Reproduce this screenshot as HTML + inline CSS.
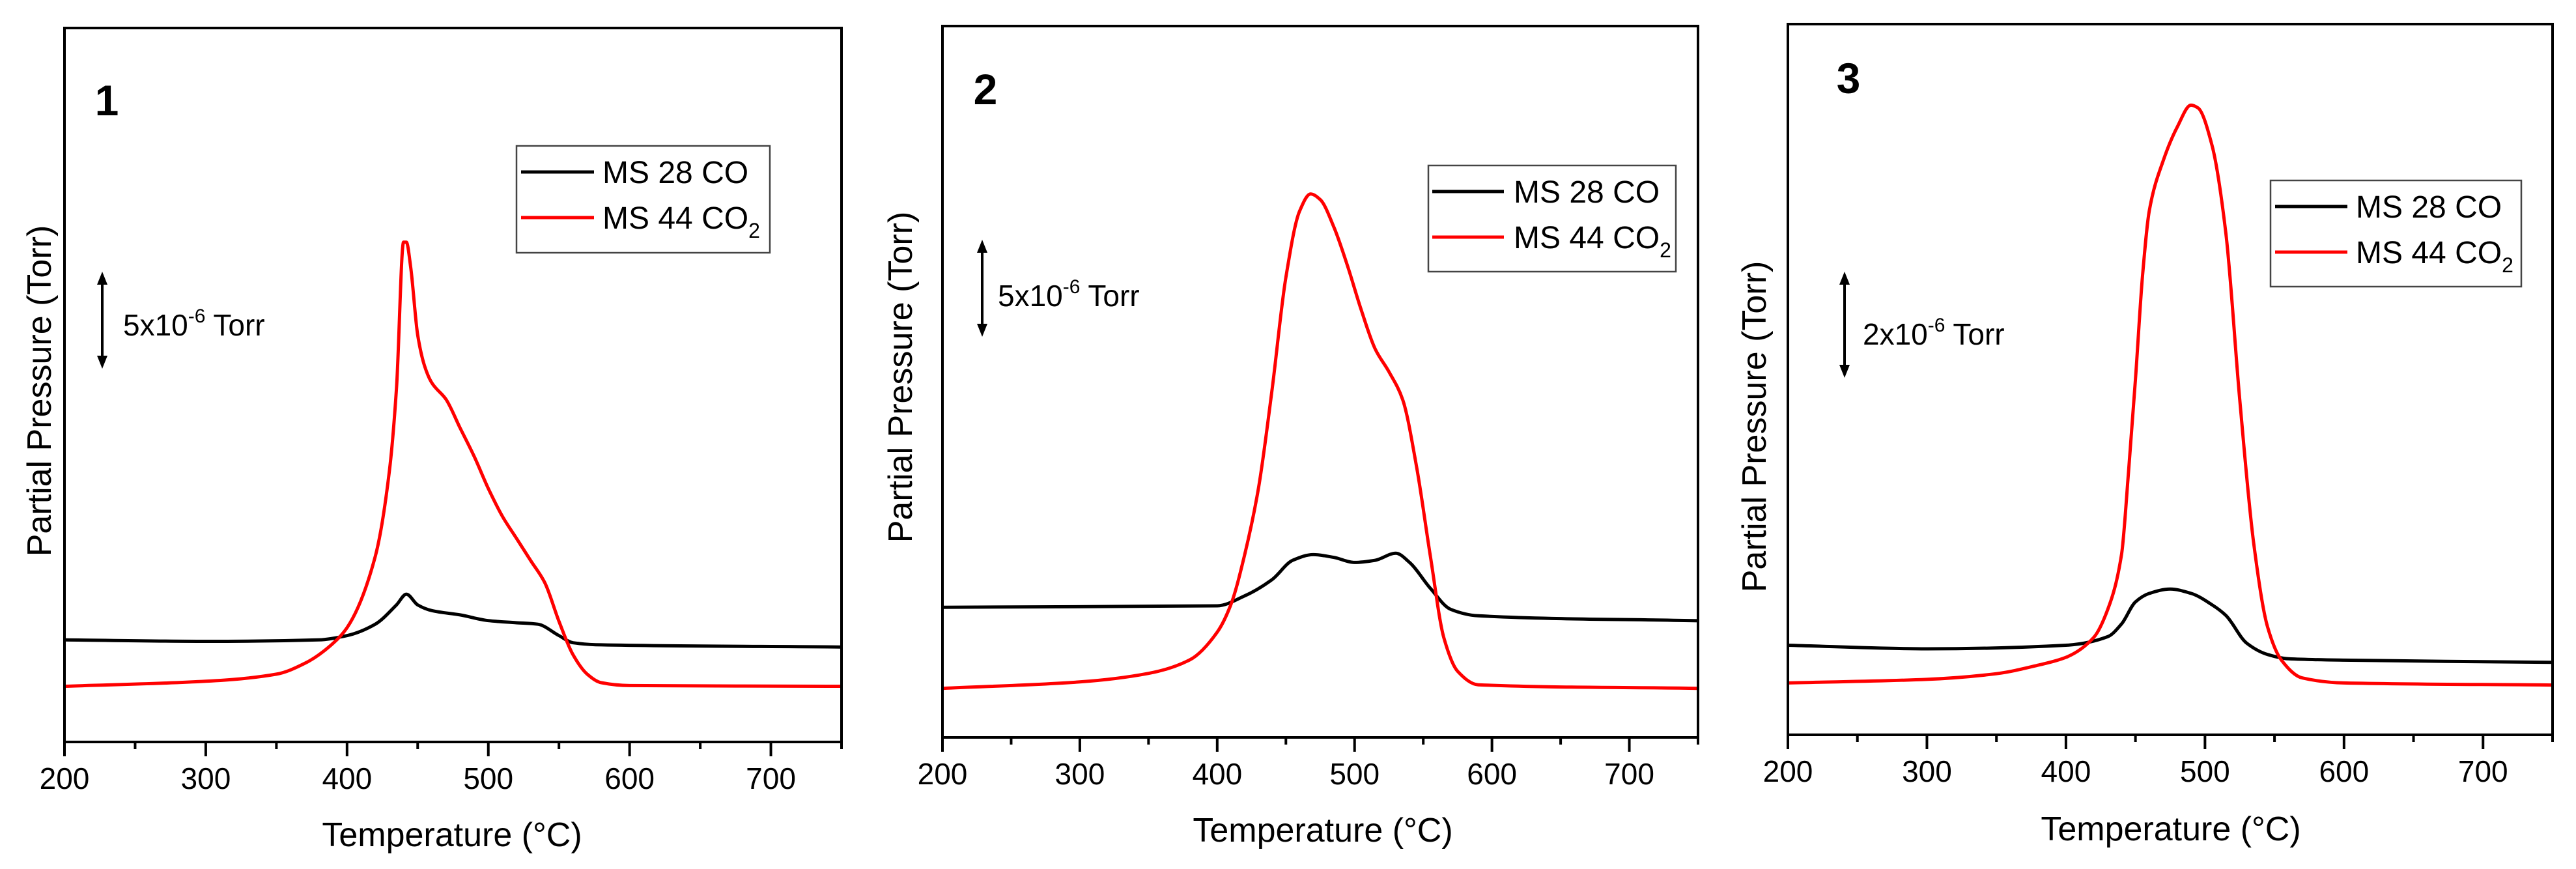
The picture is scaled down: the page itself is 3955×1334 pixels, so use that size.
<!DOCTYPE html>
<html><head><meta charset="utf-8"><style>
html,body{margin:0;padding:0;background:#fff;}
svg{display:block;font-family:"Liberation Sans",Arial,sans-serif;}
</style></head><body>
<svg id="fig" width="3955" height="1334" viewBox="0 0 3955 1334" xmlns="http://www.w3.org/2000/svg"></svg>
<script>
// X ticks
const xTicks = [200, 300, 400, 500, 600, 700];
// Panel 1 data (arbitrary signal units, 0..100 of plot height)
const p1CO2x = [200,300,350,370,390,400,420,430,435,440,442,445,450,455,460,470,480,490,500,510,520,530,540,550,560,570,580,600,750];
const p1CO2y = [7.8,8.5,9.5,11,13.8,16,26,38,49.5,70,70,66.6,57,52.6,50.3,48,44,40,35.5,31.6,28.5,25.4,22.3,16.9,12.2,9.5,8.3,7.9,7.8];
const p1COx = [200,300,380,400,420,435,442,450,460,480,500,520,535,550,560,580,750];
const p1COy = [14.3,14.1,14.3,14.9,16.5,19.2,20.7,19.2,18.4,17.8,17,16.7,16.5,14.9,13.9,13.6,13.3];
// Panel 2 data
const p2CO2x = [200,300,350,380,400,410,420,430,440,450,460,468,475,485,495,505,515,525,535,545,555,565,575,590,750];
const p2CO2y = [6.9,7.8,9,10.9,14.8,18.7,25.7,35,49,64.7,74,76.4,75.6,71.7,66.2,60,54.6,51.4,47.5,38.2,25.7,14,9.3,7.4,6.9];
const p2COx = [200,400,420,440,455,470,485,500,515,530,540,555,570,590,750];
const p2COy = [18.3,18.5,19.9,22.2,24.9,25.7,25.3,24.6,24.9,25.9,24.6,21,18,17.1,16.4];
// Panel 3 data
const p3CO2x = [200,300,350,380,400,420,430,440,445,450,455,460,470,480,490,495,505,515,525,535,545,555,570,600,750];
const p3CO2y = [7.3,7.8,8.6,9.8,10.9,13.7,17.6,25.4,37,50,64.4,73.8,80.8,85.5,88.6,88.2,83,70.6,47.2,27,15.2,10.5,8,7.3,7];
const p3COx = [200,300,400,430,440,450,460,475,490,505,515,530,545,560,600,750];
const p3COy = [12.6,12.1,12.6,13.8,15.6,18.7,19.9,20.5,19.9,18.3,16.8,12.9,11.3,10.7,10.5,10.2];

const NS = "http://www.w3.org/2000/svg";
const svg = document.getElementById('fig');
function mk(tag, attrs, parent){
  const e = document.createElementNS(NS, tag);
  for (const k in attrs) e.setAttribute(k, attrs[k]);
  (parent||svg).appendChild(e);
  return e;
}
// monotone cubic (Fritsch-Carlson) path through screen points
function smooth(pts){
  const n = pts.length;
  const dx=[], dy=[], m=[];
  for (let i=0;i<n-1;i++){ dx.push(pts[i+1][0]-pts[i][0]); dy.push(pts[i+1][1]-pts[i][1]); m.push(dy[i]/dx[i]); }
  const t = new Array(n);
  t[0]=m[0]; t[n-1]=m[n-2];
  for (let i=1;i<n-1;i++){
    if (m[i-1]*m[i] <= 0) t[i]=0;
    else { const w1=2*dx[i]+dx[i-1], w2=dx[i]+2*dx[i-1]; t[i]=(w1+w2)/(w1/m[i-1]+w2/m[i]); }
  }
  let d = "M" + pts[0][0].toFixed(1) + "," + pts[0][1].toFixed(1);
  for (let i=0;i<n-1;i++){
    const h = dx[i]/3;
    d += "C"+(pts[i][0]+h).toFixed(1)+","+(pts[i][1]+t[i]*h).toFixed(1)+" "+(pts[i+1][0]-h).toFixed(1)+","+(pts[i+1][1]-t[i+1]*h).toFixed(1)+" "+pts[i+1][0].toFixed(1)+","+pts[i+1][1].toFixed(1);
  }
  return d;
}

const panels = [
 {id:1, L:99, R:1292, T:43, B:1139, co2x:p1CO2x, co2y:p1CO2y, cox:p1COx, coy:p1COy,
  num:[164,153], leg:[793,224,1182,388], legLine:[800,912], legText:925, rows:[264,334],
  arrow:[157,417,566], ann:[189,515], annVal:"5", ytitle:[60,600], xtitle:[694,1299]},
 {id:2, L:1447, R:2607, T:40, B:1132, co2x:p2CO2x, co2y:p2CO2y, cox:p2COx, coy:p2COy,
  num:[1513,136], leg:[2193,254,2573,417], legLine:[2199,2309], legText:2324, rows:[294,364],
  arrow:[1508,368,517], ann:[1532,470], annVal:"5", ytitle:[1382,579], xtitle:[2031,1292]},
 {id:3, L:2745, R:3919, T:37, B:1128, co2x:p3CO2x, co2y:p3CO2y, cox:p3COx, coy:p3COy,
  num:[2838,119], leg:[3486,277,3871,440], legLine:[3493,3604], legText:3617, rows:[317,387],
  arrow:[2832,417,580], ann:[2860,529], annVal:"2", ytitle:[2693,655], xtitle:[3333,1290]}
];

panels.forEach(p=>{
  const g = mk('g',{});
  
  
  const xs = v => p.L + (v-200)/550*(p.R-p.L);
  const ys = v => p.B - v/100*(p.B-p.T);

  const co = mk('path',{d:smooth(p.cox.map((v,i)=>[xs(v),ys(p.coy[i])])), fill:'none', stroke:'#000', 'stroke-width':5, 'stroke-linejoin':'round'}, g);
  
  
  const co2 = mk('path',{d:smooth(p.co2x.map((v,i)=>[xs(v),ys(p.co2y[i])])), fill:'none', stroke:'#ff0000', 'stroke-width':5, 'stroke-linejoin':'round'}, g);
  
  

  const fr = mk('rect',{x:p.L, y:p.T, width:p.R-p.L, height:p.B-p.T, fill:'none', stroke:'#000', 'stroke-width':4}, g);
  
  

  for (let v=200; v<=750; v+=50){
    const major = v%100===0;
    const t = mk('line',{x1:xs(v), x2:xs(v), y1:p.B, y2:p.B+(major?22:11), stroke:'#000', 'stroke-width':4}, g);
    
    
  }
  xTicks.forEach(v=>{
    const t = mk('text',{x:xs(v), y:p.B+72, 'font-size':46, 'text-anchor':'middle', fill:'#000'}, g);
    t.textContent = v;
    
    
  });

  const xt = mk('text',{x:p.xtitle[0], y:p.xtitle[1], 'font-size':52, 'text-anchor':'middle', fill:'#000'}, g);
  xt.textContent = 'Temperature (°C)';
  
  
  const yt = mk('text',{x:0, y:0, 'font-size':52, 'text-anchor':'middle', fill:'#000', transform:'translate('+(p.ytitle[0]+18)+','+p.ytitle[1]+') rotate(-90)'}, g);
  yt.textContent = 'Partial Pressure (Torr)';
  
  

  const n = mk('text',{x:p.num[0], y:p.num[1]+24, 'font-size':66, 'font-weight':'bold', 'text-anchor':'middle', fill:'#000'}, g);
  n.textContent = p.id;
  
  

  const lg = mk('g',{}, g);
  
  
  mk('rect',{x:p.leg[0], y:p.leg[1], width:p.leg[2]-p.leg[0], height:p.leg[3]-p.leg[1], fill:'#fff', stroke:'#444', 'stroke-width':2.5}, lg);
  const l1 = mk('line',{x1:p.legLine[0], x2:p.legLine[1], y1:p.rows[0], y2:p.rows[0], stroke:'#000', 'stroke-width':5}, lg);
  
  
  const t1 = mk('text',{x:p.legText, y:p.rows[0]+17, 'font-size':48, fill:'#000'}, lg);
  t1.textContent = 'MS 28 CO';
  
  
  const l2 = mk('line',{x1:p.legLine[0], x2:p.legLine[1], y1:p.rows[1], y2:p.rows[1], stroke:'#ff0000', 'stroke-width':5}, lg);
  
  
  const t2 = mk('text',{x:p.legText, y:p.rows[1]+17, 'font-size':48, fill:'#000'}, lg);
  
  
  t2.appendChild(document.createTextNode('MS 44 CO'));
  const sub = mk('tspan',{'font-size':32, dy:14}, t2);
  sub.textContent = '2';

  const ag = mk('g',{}, g);
  
  
  const ax = p.arrow[0], a1 = p.arrow[1], a2 = p.arrow[2];
  mk('line',{x1:ax, x2:ax, y1:a1+14, y2:a2-14, stroke:'#000', 'stroke-width':4}, ag);
  mk('polygon',{points:(ax-8)+','+(a1+20)+' '+ax+','+a1+' '+(ax+8)+','+(a1+20), fill:'#000'}, ag);
  mk('polygon',{points:(ax-8)+','+(a2-20)+' '+ax+','+a2+' '+(ax+8)+','+(a2-20), fill:'#000'}, ag);
  const at = mk('text',{x:p.ann[0], y:p.ann[1], 'font-size':46, fill:'#000'}, ag);
  
  
  at.appendChild(document.createTextNode(p.annVal+'x10'));
  const sup = mk('tspan',{'font-size':30, dy:-20}, at);
  sup.textContent = '-6';
  const rest = mk('tspan',{dy:20}, at);
  rest.textContent = ' Torr';
});
</script>
</body></html>
